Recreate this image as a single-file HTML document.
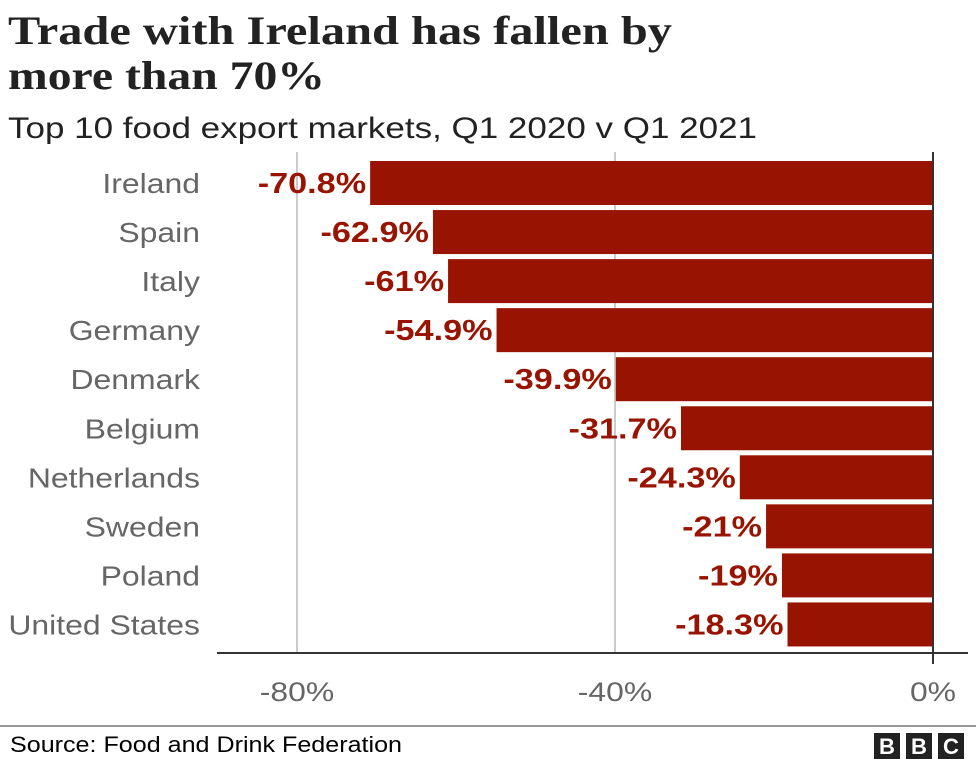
<!DOCTYPE html>
<html><head><meta charset="utf-8"><style>
body{margin:0;background:#fff;width:976px;height:762px;overflow:hidden;font-family:"Liberation Sans",sans-serif}
</style></head><body>
<svg width="976" height="762">
<text x="8" y="44" font-family="Liberation Serif,serif" font-weight="bold" font-size="40" fill="#222" textLength="664" lengthAdjust="spacingAndGlyphs">Trade with Ireland has fallen by</text>
<text x="8" y="89" font-family="Liberation Serif,serif" font-weight="bold" font-size="40" fill="#222" textLength="317" lengthAdjust="spacingAndGlyphs">more than 70%</text>
<text x="8" y="138" font-size="30" fill="#222" textLength="749" lengthAdjust="spacingAndGlyphs">Top 10 food export markets, Q1 2020 v Q1 2021</text>
<g id="grid"></g><g id="bars"></g>
<line x1="217" y1="653" x2="968" y2="653" stroke="#333" stroke-width="2"/>
<line x1="933" y1="152" x2="933" y2="664" stroke="#333" stroke-width="2"/>
<g id="ticks"></g>
<line x1="0" y1="726" x2="976" y2="726" stroke="#777" stroke-width="1.5"/>
<text x="10" y="752" font-size="22" fill="#000" textLength="392" lengthAdjust="spacingAndGlyphs">Source: Food and Drink Federation</text>
<g font-weight="bold" font-size="22" fill="#fff" text-anchor="middle">
<rect x="874" y="733" width="26" height="26" fill="#222"/><text x="887" y="754">B</text>
<rect x="906" y="733" width="26" height="26" fill="#222"/><text x="919" y="754">B</text>
<rect x="938" y="733" width="26" height="26" fill="#222"/><text x="951" y="754">C</text>
</g>
</svg>
<script>
const categories=["Ireland","Spain","Italy","Germany","Denmark","Belgium","Netherlands","Sweden","Poland","United States"];
const values=[-70.8,-62.9,-61,-54.9,-39.9,-31.7,-24.3,-21,-19,-18.3];
const valueLabels=["-70.8%","-62.9%","-61%","-54.9%","-39.9%","-31.7%","-24.3%","-21%","-19%","-18.3%"];
const tickValues=[-80,-40,0];
const tickLabels=["-80%","-40%","0%"];
const NS="http://www.w3.org/2000/svg";
const x=v=>933+v*7.95;
const y=i=>161+i*49.05;
const bh=44;
function mk(tag,attrs,parent,text){const e=document.createElementNS(NS,tag);for(const k in attrs)e.setAttribute(k,attrs[k]);if(text!==undefined)e.textContent=text;document.getElementById(parent).appendChild(e);return e;}
function widen(e,f){const w=e.getComputedTextLength();e.setAttribute("textLength",w*f);e.setAttribute("lengthAdjust","spacingAndGlyphs");}
tickValues.forEach((t,i)=>{
  if(t!==0){const g=mk("line",{x1:x(t),x2:x(t),y1:152,y2:653,stroke:"#ccc","stroke-width":2},"grid");
  
  }
  const tl=mk("text",{x:x(t),y:701,"font-size":27,fill:"#666","text-anchor":"middle"},"ticks",tickLabels[i]);
  
  
  widen(tl,1.18);
});
categories.forEach((c,i)=>{
  const r=mk("rect",{x:x(values[i]),y:y(i),width:x(0)-x(values[i]),height:bh,fill:"#991400"},"bars");
  
  
  const l=mk("text",{x:200,y:y(i)+32,"font-size":28,fill:"#666","text-anchor":"end"},"bars",c);
  
  
  widen(l,1.14);
  const v=mk("text",{x:x(values[i])-4,y:y(i)+32,"font-size":29,"font-weight":"bold",fill:"#991400","text-anchor":"end"},"bars",valueLabels[i]);
  
  
  widen(v,1.18);
});
</script>
</body></html>
